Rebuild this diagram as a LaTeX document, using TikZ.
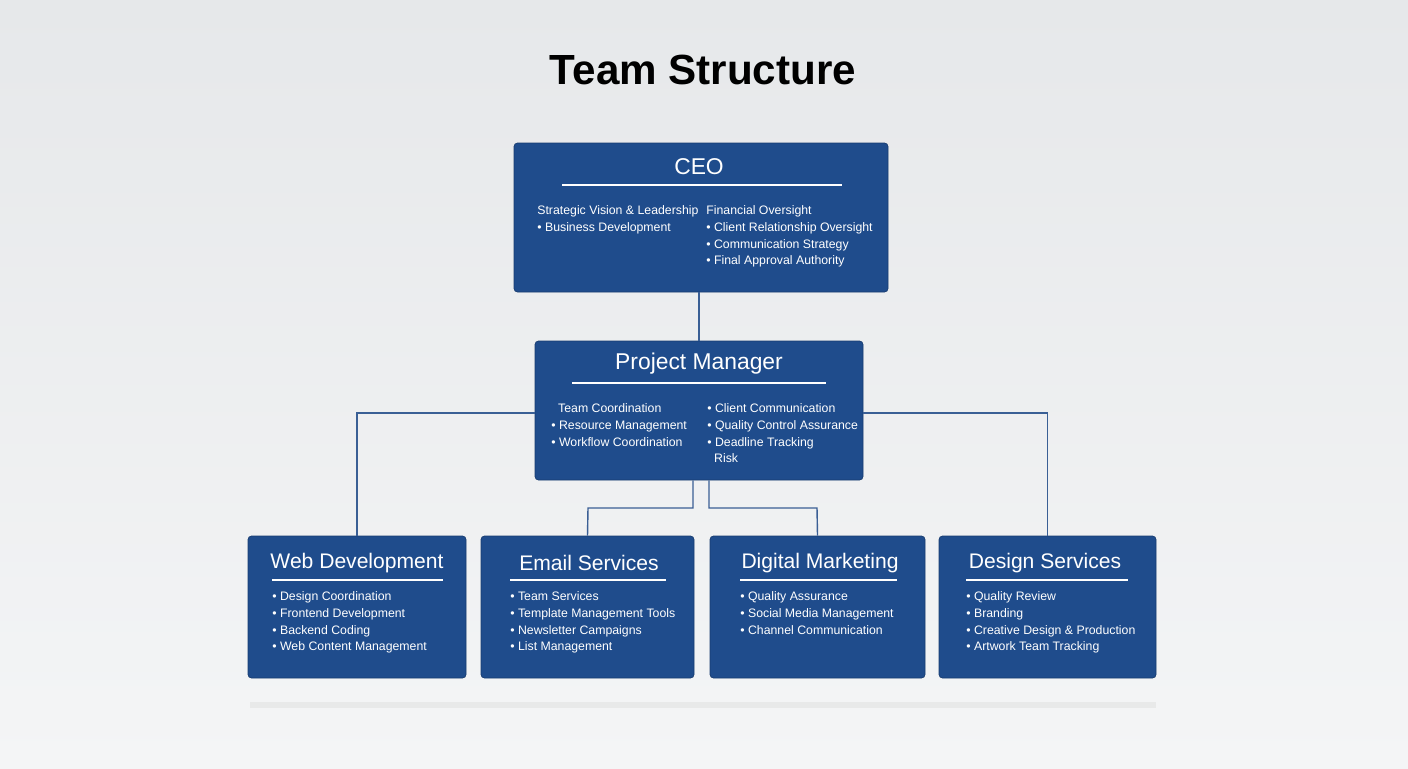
\documentclass[tikz,border=0pt]{standalone}
\usepackage{fontspec}
\setmainfont{Liberation Sans}
\usetikzlibrary{positioning}
\definecolor{boxblue}{HTML}{1F4C8C}
\definecolor{linkblue}{HTML}{3A5F95}
\definecolor{bgtop}{HTML}{E6E8EA}
\definecolor{bgbot}{HTML}{F4F5F6}
\tikzset{
  card/.style={draw=boxblue!80!black, fill=boxblue, rounded corners=2pt, inner sep=0pt},
  head/.style={text=white, font=\fontsize{13}{15}\selectfont},
  body/.style={text=white, font=\fontsize{7}{9.6}\selectfont, align=left, inner sep=0pt},
  link/.style={draw=linkblue, line width=0.8pt},
}
\begin{document}
\begin{tikzpicture}[x=0.02cm, y=-0.02cm]
        % Background
        \shade[top color=bgtop, bottom color=bgbot] (0,0) rectangle (1408,768);
        \useasboundingbox (0,0) rectangle (1408,768);
        \fill[gray!25, opacity=0.5] (250,702) rectangle (1156,708);

        % Title
        \node[font=\bfseries\fontsize{24}{27}\selectfont] (title) at (703,70) {Team Structure};

        % Cards
        \node[card, minimum width=374*0.02cm, minimum height=149*0.02cm] (ceo) at (701,217.5) {};
        \node[card, minimum width=328*0.02cm, minimum height=139*0.02cm] (pm) at (699,410.5) {};
        \node[card, minimum width=218*0.02cm, minimum height=142*0.02cm] (web) at (357,607) {};
        \node[card, minimum width=213*0.02cm, minimum height=142*0.02cm] (mail) at (587.5,607) {};
        \node[card, minimum width=215*0.02cm, minimum height=142*0.02cm] (dig) at (817.5,607) {};
        \node[card, minimum width=217*0.02cm, minimum height=142*0.02cm] (des) at (1047.5,607) {};

        % Headings and rules
        \node[head] (ceoT) at (699,167) {CEO};
        \draw[white, line width=0.8pt] (562,185) -- (842,185);
        \node[head] (pmT) at (699,364) {Project Manager};
        \draw[white, line width=0.8pt] (572,383) -- (826,383);
        \node[head, font=\fontsize{12}{14}\selectfont] (webT) at (357,563) {Web Development};
        \draw[white, line width=0.8pt] (272,580) -- (443,580);
        \node[head, font=\fontsize{12}{14}\selectfont] (mailT) at (589,563) {Email Services};
        \draw[white, line width=0.8pt] (510,580) -- (666,580);
        \node[head, font=\fontsize{12}{14}\selectfont] (digT) at (820,563) {Digital Marketing};
        \draw[white, line width=0.8pt] (740,580) -- (897,580);
        \node[head, font=\fontsize{12}{14}\selectfont] (desT) at (1045,563) {Design Services};
        \draw[white, line width=0.8pt] (966,580) -- (1128,580);

        % Card texts
        \node[body, anchor=north west] (ceoL) at (537,205) {Strategic Vision \& Leadership\\ \textbullet\ Business Development};
        \node[body, anchor=north west] (ceoR) at (706,205) {Financial Oversight\\ \textbullet\ Client Relationship Oversight\\ \textbullet\ Communication Strategy\\ \textbullet\ Final Approval Authority};
        \node[body, anchor=north west] (pmL) at (551,403) {\ \ Team Coordination\\ \textbullet\ Resource Management\\ \textbullet\ Workflow Coordination};
        \node[body, anchor=north west] (pmR) at (707,403) {\textbullet\ Client Communication\\ \textbullet\ Quality Control Assurance\\ \textbullet\ Deadline Tracking\\ \ \ Risk};
        \node[body, anchor=north west] (webB) at (272,591) {\textbullet\ Design Coordination\\ \textbullet\ Frontend Development\\ \textbullet\ Backend Coding\\ \textbullet\ Web Content Management};
        \node[body, anchor=north west] (mailB) at (510,591) {\textbullet\ Team Services\\ \textbullet\ Template Management Tools\\ \textbullet\ Newsletter Campaigns\\ \textbullet\ List Management};
        \node[body, anchor=north west] (digB) at (740,591) {\textbullet\ Quality Assurance\\ \textbullet\ Social Media Management\\ \textbullet\ Channel Communication};
        \node[body, anchor=north west] (desB) at (966,591) {\textbullet\ Quality Review\\ \textbullet\ Branding\\ \textbullet\ Creative Design \& Production\\ \textbullet\ Artwork Team Tracking};

        % Connectors
        \draw[link] (pm.north |- ceo.south) -- (pm.north);
        \draw[link] (pm.west |- 0,413) -| (web.north);
        \draw[link] (pm.east |- 0,413) -| (des.north);
        \draw[link] (pm.south -| 693,0) |- (588,508) -- (mail.north);
        \draw[link] (pm.south -| 709,0) |- (817,508) -- (dig.north);

    \end{tikzpicture}
\end{document}
